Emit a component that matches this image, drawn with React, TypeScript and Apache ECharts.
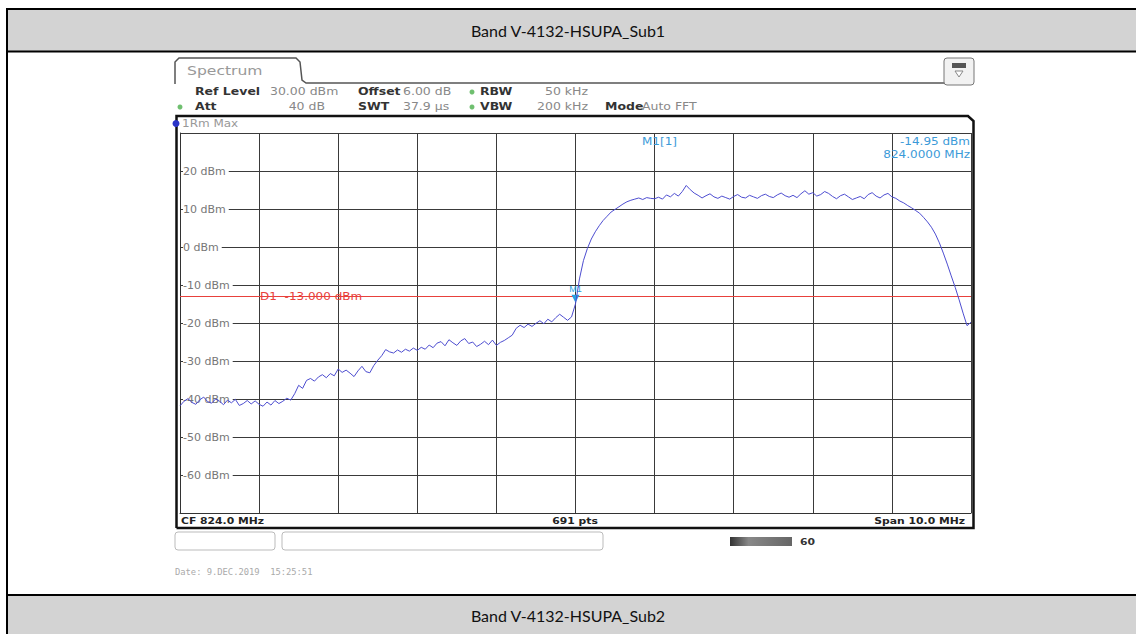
import React, { useEffect, useRef } from "react";
import * as echarts from "echarts";

const TITLE_TOP = "Band V-4132-HSUPA_Sub1";
const TITLE_BOTTOM = "Band V-4132-HSUPA_Sub2";

const FREQ_MIN = 819;
const FREQ_MAX = 829;
const FREQ_STEP = 1;
const LEVEL_MIN = -70;
const LEVEL_MAX = 30;
const LEVEL_STEP = 10;

const FREQ_MHZ = [
  819.0, 819.05, 819.1, 819.15, 819.2, 819.25, 819.3, 819.35, 819.4, 819.45,
  819.5, 819.55, 819.6, 819.65, 819.7, 819.75, 819.8, 819.85, 819.9, 819.95,
  820.0, 820.05, 820.1, 820.15, 820.2, 820.25, 820.3, 820.35, 820.4, 820.45,
  820.5, 820.55, 820.6, 820.65, 820.7, 820.75, 820.8, 820.85, 820.9, 820.95,
  821.0, 821.05, 821.1, 821.15, 821.2, 821.25, 821.3, 821.35, 821.4, 821.45,
  821.5, 821.55, 821.6, 821.65, 821.7, 821.75, 821.8, 821.85, 821.9, 821.95,
  822.0, 822.05, 822.1, 822.15, 822.2, 822.25, 822.3, 822.35, 822.4, 822.45,
  822.5, 822.55, 822.6, 822.65, 822.7, 822.75, 822.8, 822.85, 822.9, 822.95,
  823.0, 823.05, 823.1, 823.15, 823.2, 823.25, 823.3, 823.35, 823.4, 823.45,
  823.5, 823.55, 823.6, 823.65, 823.7, 823.75, 823.8, 823.85, 823.9, 823.95,
  824.0, 824.05, 824.1, 824.15, 824.2, 824.25, 824.3, 824.35, 824.4, 824.45,
  824.5, 824.55, 824.6, 824.65, 824.7, 824.75, 824.8, 824.85, 824.9, 824.95,
  825.0, 825.05, 825.1, 825.15, 825.2, 825.25, 825.3, 825.35, 825.4, 825.45,
  825.5, 825.55, 825.6, 825.65, 825.7, 825.75, 825.8, 825.85, 825.9, 825.95,
  826.0, 826.05, 826.1, 826.15, 826.2, 826.25, 826.3, 826.35, 826.4, 826.45,
  826.5, 826.55, 826.6, 826.65, 826.7, 826.75, 826.8, 826.85, 826.9, 826.95,
  827.0, 827.05, 827.1, 827.15, 827.2, 827.25, 827.3, 827.35, 827.4, 827.45,
  827.5, 827.55, 827.6, 827.65, 827.7, 827.75, 827.8, 827.85, 827.9, 827.95,
  828.0, 828.05, 828.1, 828.15, 828.2, 828.25, 828.3, 828.35, 828.4, 828.45,
  828.5, 828.55, 828.6, 828.65, 828.7, 828.75, 828.8, 828.85, 828.9, 828.95,
  829.0,
];

const LEVEL_DBM = [
  -41.8, -40.6, -39.9, -40.9, -41.4, -40.2, -39.5, -40.7, -41.1, -40.0,
  -40.6, -41.5, -40.3, -41.0, -40.1, -41.7, -41.2, -40.4, -41.3, -40.5,
  -41.4, -41.9, -40.8, -41.6, -40.4, -41.2, -40.6, -39.8, -40.3, -38.6,
  -36.4, -37.2, -35.1, -34.6, -35.3, -34.2, -33.6, -34.4, -33.3, -33.9,
  -32.1, -33.0, -32.4, -33.2, -34.1, -32.6, -31.4, -32.8, -33.1, -31.2,
  -29.8, -28.6, -27.0, -27.6, -27.9, -27.1, -27.7, -26.9, -27.4, -26.6,
  -27.2, -26.4, -26.9, -25.8, -26.5, -25.3, -24.9, -26.0, -24.4, -25.2,
  -25.9, -24.7, -24.1, -25.4, -25.0, -26.2, -25.6, -24.8, -25.7, -24.5,
  -25.9, -25.1, -24.6, -23.9, -23.2, -21.4, -20.6, -21.2, -20.3, -20.9,
  -20.1, -19.4, -20.2, -19.0, -19.7, -18.6, -17.7, -18.5, -19.3, -18.4,
  -14.95, -8.4, -3.6, -0.4, 2.1, 4.0, 5.6, 7.0, 8.1, 9.2,
  9.9, 10.6, 11.3, 11.9, 12.3, 12.6, 12.9, 12.5, 13.0, 12.8,
  12.7, 13.1, 12.6, 13.7, 13.2, 14.1, 13.4, 14.6, 16.2, 15.1,
  14.2, 13.6, 12.9, 13.5, 14.0, 13.2, 12.8, 13.4, 13.0, 12.6,
  13.3, 13.8, 13.1, 12.9, 13.6, 13.2, 12.8, 13.5, 13.9, 13.3,
  13.0, 13.7, 14.2, 13.5, 13.1, 13.6, 13.0, 14.0, 14.8, 13.9,
  14.3, 13.4, 13.8, 14.6, 14.1, 13.3, 12.7, 13.5, 13.9, 13.2,
  12.5, 12.9, 13.3, 12.7, 13.8, 14.3, 13.4, 12.9, 13.7, 14.1,
  13.2, 12.8, 12.1, 11.6, 10.9, 10.3, 9.6, 8.9, 7.8, 6.6,
  5.2, 3.4, 1.1, -1.6, -4.5, -7.6, -10.6, -13.9, -17.4, -20.7,
  -19.8,
];

const DISPLAY_LINE_DBM = -13;
const DISPLAY_LINE_LABEL = "D1  -13.000 dBm";
const MARKER_FREQ = 824.0;
const MARKER_LEVEL = -14.95;
const MARKER_NAME = "M1";
const MARKER_READOUT = ["M1[1]", "-14.95 dBm", "824.0000 MHz"];

const INFO_ROW1 = [
  { t: "Ref Level", b: true, x: 195 },
  { t: "30.00 dBm", b: false, x: 270 },
  { t: "Offset", b: true, x: 358 },
  { t: "6.00 dB", b: false, x: 403 },
  { t: "RBW", b: true, x: 480 },
  { t: "50 kHz", b: false, x: 588, r: true },
];
const INFO_ROW2 = [
  { t: "Att", b: true, x: 195 },
  { t: "40 dB", b: false, x: 325, r: true },
  { t: "SWT", b: true, x: 358 },
  { t: "37.9 µs", b: false, x: 403 },
  { t: "VBW", b: true, x: 480 },
  { t: "200 kHz", b: false, x: 588, r: true },
  { t: "Mode", b: true, x: 605 },
  { t: "Auto FFT", b: false, x: 642 },
];
const STATUS_LEFT = "CF 824.0 MHz";
const STATUS_MID = "691 pts";
const STATUS_RIGHT = "Span 10.0 MHz";
const TRACE_LABEL = "1Rm Max";
const TAB_LABEL = "Spectrum";
const DATE_TEXT = "Date: 9.DEC.2019  15:25:51";

const GRID = { left: 180, top: 133, right: 1136 - 971, bottom: 634 - 513 };

function txt(text: string, x: number, y: number, o: any = {}) {
  const align = o.align || "left";
  return {
    type: "text",
    x,
    y,
    scaleX: o.sx ?? 1,
    z: 10,
    silent: true,
    style: {
      text,
      fill: o.fill || "#555",
      font: o.font || "10px 'DejaVu Sans'",
      textAlign: align,
      align,
      textVerticalAlign: "middle",
      verticalAlign: "middle",
    },
  };
}

export default function App() {
  const ref = useRef<HTMLDivElement>(null);
  useEffect(() => {
    document.body.style.margin = "0";
    const chart = echarts.init(ref.current!, undefined, { renderer: "svg" });
    const data = FREQ_MHZ.map((f, i) => [f, LEVEL_DBM[i]]);

    const frame: any[] = [
      { type: "rect", shape: { x: 8, y: 10, width: 1130, height: 41 }, style: { fill: "#d3d3d3" }, z: 1 },
      { type: "rect", shape: { x: 8, y: 596, width: 1130, height: 40 }, style: { fill: "#d3d3d3" }, z: 1 },
      { type: "rect", shape: { x: 6, y: 8, width: 1132, height: 2 }, style: { fill: "#000" }, z: 2 },
      { type: "rect", shape: { x: 6, y: 50.5, width: 1132, height: 2 }, style: { fill: "#000" }, z: 2 },
      { type: "rect", shape: { x: 6, y: 594, width: 1132, height: 2 }, style: { fill: "#000" }, z: 2 },
      { type: "rect", shape: { x: 6, y: 8, width: 2, height: 630 }, style: { fill: "#000" }, z: 2 },
      txt(TITLE_TOP, 568, 30.5, { align: "center", font: "16px Lato", fill: "#111" }),
      txt(TITLE_BOTTOM, 568, 615, { align: "center", font: "16px Lato", fill: "#111" }),
    ];

    const shot: any[] = [
      {
        type: "polyline",
        z: 5,
        shape: { points: [[175, 84], [175, 62], [179, 58], [296, 58], [300, 62], [302, 80], [306, 83], [972, 83]] },
        style: { stroke: "#555", lineWidth: 1.5, fill: null },
      },
      txt(TAB_LABEL, 187, 71, { fill: "#999", font: "12px 'DejaVu Sans'", sx: 1.3 }),
      { type: "rect", z: 5, shape: { x: 944, y: 58, width: 30, height: 27, r: 3 }, style: { fill: "#f2f2f2", stroke: "#777", lineWidth: 1 } },
      { type: "rect", z: 6, shape: { x: 952, y: 63, width: 14, height: 5 }, style: { fill: "#555" } },
      { type: "polygon", z: 6, shape: { points: [[955, 71], [963, 71], [959, 77]] }, style: { fill: "#fff", stroke: "#888", lineWidth: 1 } },
      {
        type: "polyline",
        z: 5,
        shape: { points: [[176.5, 528], [176.5, 116], [968, 116], [973.5, 121], [973.5, 528], [176.5, 528]] },
        style: { stroke: "#111", lineWidth: 2.5, fill: null },
      },
      { type: "circle", z: 6, shape: { cx: 176, cy: 123.5, r: 3.5 }, style: { fill: "#2b35c8" } },
      txt(TRACE_LABEL, 182, 123.5, { fill: "#999", font: "10px 'DejaVu Sans'", sx: 1.2 }),
      { type: "circle", z: 6, shape: { cx: 180, cy: 107, r: 2.5 }, style: { fill: "#6fbf6f" } },
      { type: "circle", z: 6, shape: { cx: 472, cy: 92, r: 2.5 }, style: { fill: "#6fbf6f" } },
      { type: "circle", z: 6, shape: { cx: 472, cy: 107, r: 2.5 }, style: { fill: "#6fbf6f" } },
      ...INFO_ROW1.map((d) =>
        txt(d.t, d.x, 92, { align: d.r ? "right" : "left", fill: d.b ? "#333" : "#888", font: (d.b ? "bold " : "") + "10px 'DejaVu Sans'", sx: 1.25 })
      ),
      ...INFO_ROW2.map((d) =>
        txt(d.t, d.x, 107, { align: d.r ? "right" : "left", fill: d.b ? "#333" : "#888", font: (d.b ? "bold " : "") + "10px 'DejaVu Sans'", sx: 1.25 })
      ),
      txt(STATUS_LEFT, 181, 521, { fill: "#222", font: "bold 9px 'DejaVu Sans'", sx: 1.2 }),
      txt(STATUS_MID, 575, 521, { align: "center", fill: "#222", font: "bold 9px 'DejaVu Sans'", sx: 1.2 }),
      txt(STATUS_RIGHT, 965, 521, { align: "right", fill: "#222", font: "bold 9px 'DejaVu Sans'", sx: 1.2 }),
      { type: "rect", z: 5, shape: { x: 175, y: 532, width: 100, height: 18, r: 3 }, style: { fill: "#fff", stroke: "#bbb", lineWidth: 1 } },
      { type: "rect", z: 5, shape: { x: 282, y: 532, width: 321, height: 18, r: 3 }, style: { fill: "#fff", stroke: "#bbb", lineWidth: 1 } },
      {
        type: "rect",
        z: 5,
        shape: { x: 730, y: 537, width: 62, height: 9 },
        style: {
          fill: new echarts.graphic.LinearGradient(0, 0, 1, 0, [
            { offset: 0, color: "#333" },
            { offset: 0.3, color: "#888" },
            { offset: 1, color: "#666" },
          ]),
        },
      },
      txt("60", 800, 541.5, { fill: "#333", font: "bold 9px 'DejaVu Sans'", sx: 1.2 }),
      txt(DATE_TEXT, 175, 572, { fill: "#aaa", font: "8px 'DejaVu Sans Mono'", sx: 1.1 }),
      txt(MARKER_READOUT[0], 642, 142, { fill: "#3b9ad8", font: "10px 'DejaVu Sans'", sx: 1.2 }),
      txt(MARKER_READOUT[1], 970, 142, { align: "right", fill: "#3b9ad8", font: "10px 'DejaVu Sans'", sx: 1.2 }),
      txt(MARKER_READOUT[2], 970, 155, { align: "right", fill: "#3b9ad8", font: "10px 'DejaVu Sans'", sx: 1.2 }),
    ];

    chart.setOption({
      animation: false,
      backgroundColor: "#fff",
      grid: { ...GRID, containLabel: false },
      xAxis: {
        type: "value",
        min: FREQ_MIN,
        max: FREQ_MAX,
        interval: FREQ_STEP,
        axisLine: { show: true, onZero: false, lineStyle: { color: "#333", width: 1 } },
        axisTick: { show: false },
        axisLabel: { show: false },
        splitLine: { show: true, lineStyle: { color: "#3a3a3a", width: 1 } },
      },
      yAxis: {
        type: "value",
        min: LEVEL_MIN,
        max: LEVEL_MAX,
        interval: LEVEL_STEP,
        axisLine: { show: true, onZero: false, lineStyle: { color: "#333", width: 1 } },
        axisTick: { show: false },
        axisLabel: {
          inside: true,
          margin: 3,
          color: "#777",
          fontSize: 11,
          fontFamily: "DejaVu Sans",
          backgroundColor: "#fff",
          padding: [0, 3, 0, 0],
          formatter: (v: number) => (v === LEVEL_MIN || v === LEVEL_MAX ? "" : `${v} dBm`),
        },
        splitLine: { show: true, lineStyle: { color: "#3a3a3a", width: 1 } },
      },
      series: [
        {
          type: "line",
          data,
          showSymbol: false,
          lineStyle: { color: "#4d4dd0", width: 1 },
          z: 5,
          markLine: {
            silent: true,
            symbol: "none",
            label: { show: false },
            lineStyle: { color: "#e8413c", width: 1, type: "solid" },
            data: [{ yAxis: DISPLAY_LINE_DBM }],
          },
          markPoint: {
            silent: true,
            symbol: "triangle",
            symbolRotate: 180,
            symbolSize: 8,
            symbolOffset: [0, -5],
            itemStyle: { color: "#2a9fe0" },
            label: { show: true, position: "top", distance: 1, formatter: MARKER_NAME, color: "#2a9fe0", fontSize: 9 },
            data: [{ coord: [MARKER_FREQ, MARKER_LEVEL] }],
          },
        },
      ],
      graphic: { elements: [...frame, ...shot] },
    });

    const p = chart.convertToPixel({ gridIndex: 0 }, [FREQ_MIN + 1, DISPLAY_LINE_DBM]) as number[];
    chart.setOption({
      graphic: {
        elements: [
          ...frame,
          ...shot,
          txt(DISPLAY_LINE_LABEL, p[0] + 1, p[1], { fill: "#e8413c", font: "10px 'DejaVu Sans'", sx: 1.2 }),
        ],
      },
    });

    return () => chart.dispose();
  }, []);
  return <div ref={ref} style={{ position: "fixed", left: 0, top: 0, width: 1136, height: 634 }} />;
}
